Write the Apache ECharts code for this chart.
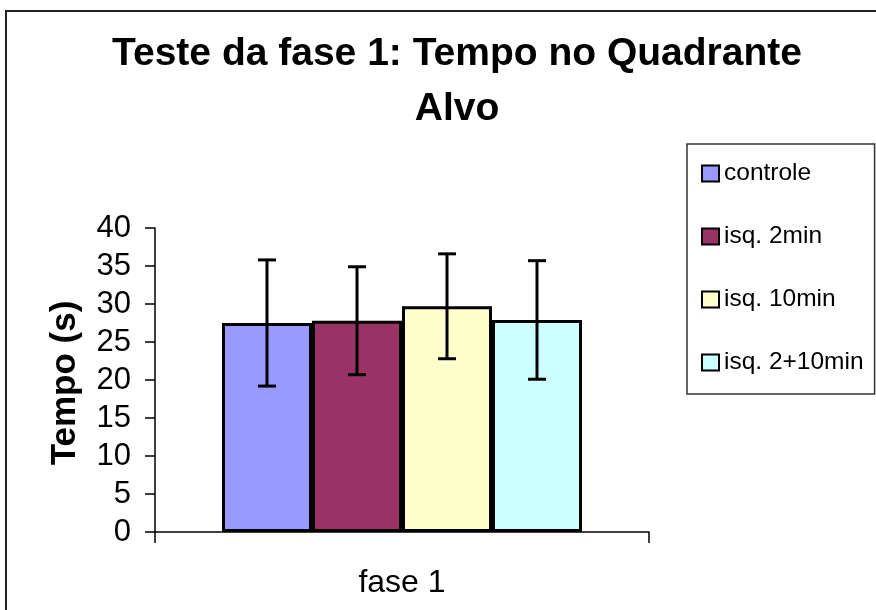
<!DOCTYPE html>
<html>
<head>
<meta charset="utf-8">
<script src="https://cdn.jsdelivr.net/npm/echarts@6/dist/echarts.min.js"></script>
<style>
  html, body { margin: 0; padding: 0; background: #fff; }
  #main { width: 876px; height: 610px; }
</style>
</head>
<body>
<div id="main"></div>
<script>
// dados
var categorias = ['fase 1'];
var grupos = ['controle', 'isq. 2min', 'isq. 10min', 'isq. 2+10min'];
var medias = [27.5, 27.8, 29.7, 27.9];
var erros = [8.3, 7.1, 6.9, 7.8];
var cores = ['#9999FF', '#993366', '#FFFFCC', '#CCFFFF'];
var yMin = 0, yMax = 40, yPasso = 5;

var fonte = '"Liberation Sans", Arial, sans-serif';
var larguraBarra = 90;

var chart = echarts.init(document.getElementById('main'));

var series = grupos.map(function (g, i) {
    var d = [];
    d[0] = medias[i];
    return {
        name: g,
        type: 'bar',
        barWidth: larguraBarra,
        barGap: '0%',
        data: d,
        itemStyle: { color: cores[i], borderColor: '#000', borderWidth: 3 }
    };
});

// barras de erro
series.push({
    name: 'erro',
    type: 'custom',
    z: 10,
    data: grupos.map(function (g, i) { return [0, medias[i], erros[i], i]; }),
    renderItem: function (params, api) {
        var base = api.coord([api.value(0), 0]);
        var x = base[0] + (api.value(3) - 1.5) * larguraBarra;
        var m = api.value(1), e = api.value(2);
        var yTop = api.coord([0, m + e])[1];
        var yBot = api.coord([0, m - e])[1];
        var w = 9;
        var estilo = { stroke: '#000', lineWidth: 3 };
        return {
            type: 'group',
            children: [
                { type: 'line', shape: { x1: x, y1: yTop, x2: x, y2: yBot }, style: estilo },
                { type: 'line', shape: { x1: x - w, y1: yTop, x2: x + w, y2: yTop }, style: estilo },
                { type: 'line', shape: { x1: x - w, y1: yBot, x2: x + w, y2: yBot }, style: estilo }
            ]
        };
    }
});

var option = {
    animation: false,
    backgroundColor: '#fff',
    title: {
        text: 'Teste da fase 1: Tempo no Quadrante\nAlvo',
        left: 452,
        top: 22,
        textAlign: 'center',
        textStyle: { fontFamily: fonte, fontSize: 39, fontWeight: 'bold', lineHeight: 55, color: '#000' }
    },
    legend: {
        data: grupos,
        orient: 'vertical',
        left: 687,
        top: 144,
        padding: [17, 11, 19, 14],
        borderColor: '#333',
        borderWidth: 1.5,
        itemWidth: 17,
        itemHeight: 16,
        itemGap: 38,
        icon: 'rect',
        itemStyle: { borderColor: '#000', borderWidth: 2 },
        textStyle: { fontFamily: fonte, fontSize: 24.5, lineHeight: 24, color: '#000' }
    },
    graphic: [{
        type: 'rect',
        shape: { x: 6, y: 11, width: 1000, height: 1000 },
        style: { fill: 'none', stroke: '#222', lineWidth: 2 },
        silent: true
    }],
    grid: { left: 155, top: 228, right: 227, bottom: 78 },
    xAxis: {
        type: 'category',
        data: categorias,
        axisLine: { lineStyle: { color: '#000', width: 1.5 } },
        axisTick: { show: true, length: 11, lineStyle: { color: '#000', width: 1.5 } },
        axisLabel: { fontFamily: fonte, fontSize: 32, color: '#000', margin: 35 },
        splitLine: { show: false }
    },
    yAxis: {
        type: 'value',
        min: yMin,
        max: yMax,
        interval: yPasso,
        name: 'Tempo (s)',
        nameLocation: 'middle',
        nameGap: 72,
        nameTextStyle: { fontFamily: fonte, fontSize: 35, fontWeight: 'bold', color: '#000', padding: [0, 6, 0, 0] },
        axisLine: { show: true, lineStyle: { color: '#000', width: 1.5 } },
        axisTick: { show: true, length: 10, lineStyle: { color: '#000', width: 1.5 } },
        axisLabel: { fontFamily: fonte, fontSize: 31, color: '#000', margin: 24 },
        splitLine: { show: false }
    },
    series: series
};
chart.setOption(option);
</script>
</body>
</html>
